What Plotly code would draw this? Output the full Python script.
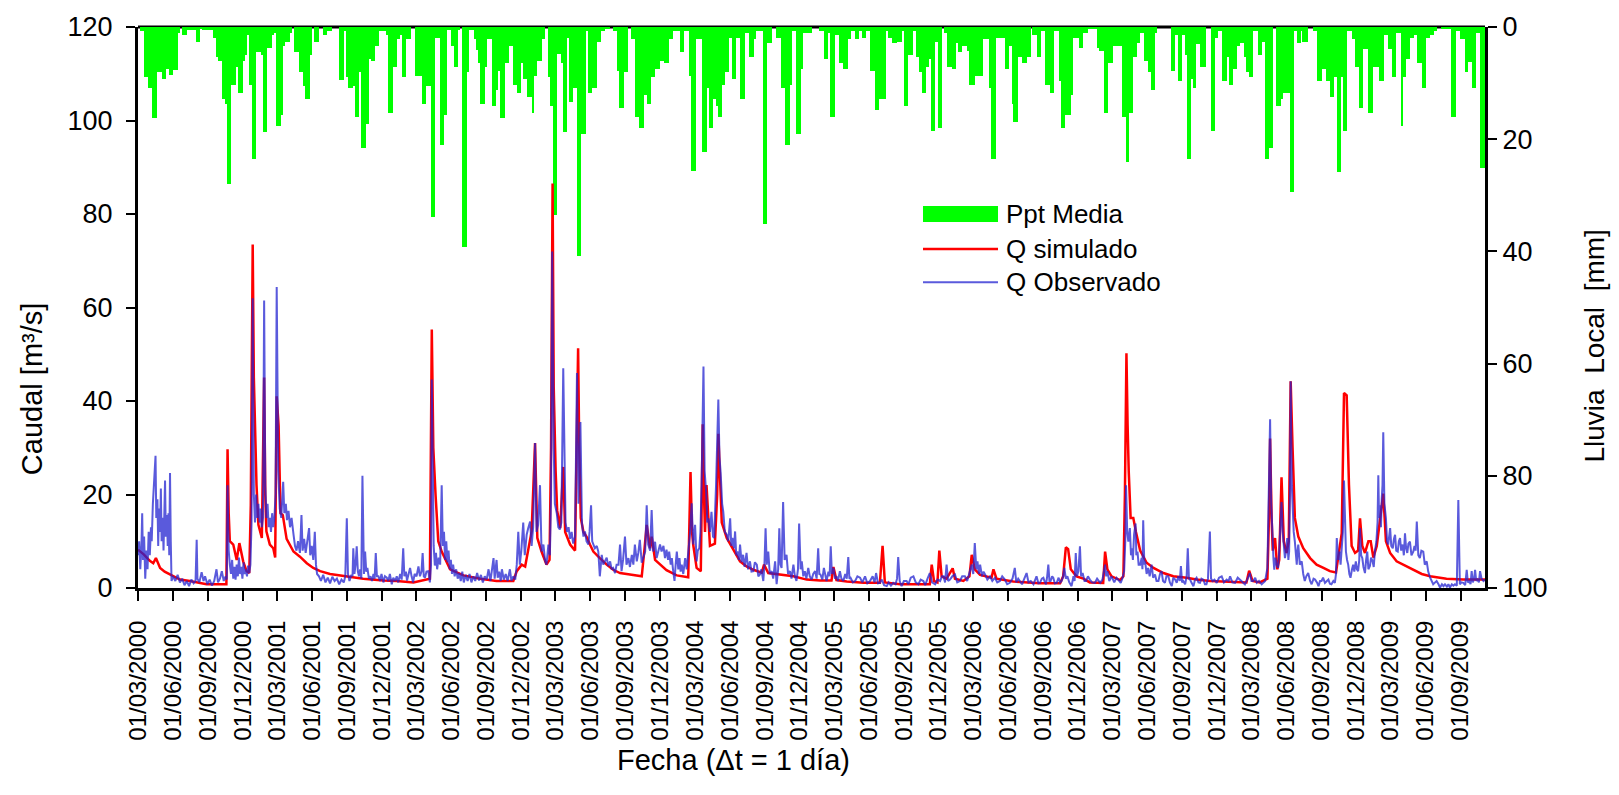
import pandas as pd
import plotly.graph_objects as go

START = pd.Timestamp("2000-03-01")
END_DAY = 3535  # last day of the record, counted from START

# Mean precipitation (mm): each value holds from its day until the next listed day
rain_day = [
    5, 16, 26, 38, 49, 62, 73, 81, 93, 104, 110, 116, 128, 141, 152,
    163, 167, 198, 205, 211, 220, 228, 234, 244, 257, 263, 275, 281, 287, 292,
    299, 310, 323, 329, 338, 352, 358, 362, 374, 380, 386, 399, 404, 409, 423,
    434, 439, 451, 457, 462, 475, 486, 497, 508, 528, 541, 546, 552, 563, 570,
    580, 585, 598, 605, 611, 622, 633, 651, 657, 668, 679, 688, 694, 703, 716,
    728, 745, 756, 769, 779, 793, 803, 810, 821, 828, 839, 845, 849, 863, 869,
    882, 889, 894, 898, 910, 917, 929, 940, 945, 950, 962, 974, 985, 994, 1004,
    1011, 1022, 1033, 1039, 1046, 1059, 1068, 1077, 1083, 1088, 1099, 1111, 1116, 1127, 1132,
    1142, 1151, 1162, 1176, 1181, 1191, 1204, 1215, 1226, 1239, 1247, 1256, 1263, 1275, 1287,
    1295, 1304, 1316, 1328, 1335, 1346, 1357, 1370, 1381, 1393, 1405, 1422, 1433, 1447, 1451,
    1464, 1480, 1493, 1499, 1510, 1519, 1523, 1533, 1540, 1552, 1558, 1569, 1580, 1593, 1604,
    1616, 1621, 1639, 1651, 1663, 1674, 1687, 1698, 1711, 1716, 1727, 1740, 1746, 1770, 1788,
    1799, 1810, 1816, 1829, 1840, 1851, 1864, 1870, 1882, 1892, 1899, 1910, 1921, 1934, 1945,
    1962, 1969, 1980, 1993, 2005, 2010, 2022, 2033, 2042, 2052, 2057, 2068, 2077, 2081, 2092,
    2099, 2110, 2115, 2122, 2135, 2146, 2151, 2162, 2175, 2181, 2197, 2218, 2233, 2239, 2252,
    2275, 2286, 2295, 2297, 2309, 2321, 2332, 2343, 2345, 2358, 2370, 2380, 2393, 2404, 2418,
    2422, 2433, 2448, 2455, 2470, 2481, 2494, 2516, 2523, 2535, 2546, 2558, 2582, 2593, 2600,
    2612, 2622, 2630, 2640, 2651, 2658, 2669, 2675, 2711, 2721, 2729, 2740, 2747, 2753, 2763,
    2769, 2776, 2787, 2804, 2816, 2827, 2835, 2846, 2857, 2864, 2874, 2885, 2892, 2905, 2909,
    2916, 2927, 2939, 2951, 2958, 2968, 2979, 2987, 2999, 3006, 3023, 3034, 3041, 3052, 3056,
    3070, 3083, 3095, 3106, 3118, 3128, 3139, 3146, 3156, 3163, 3174, 3186, 3195, 3205, 3216,
    3228, 3240, 3258, 3270, 3281, 3290, 3301, 3314, 3321, 3328, 3338, 3349, 3357, 3369, 3380,
    3391, 3401, 3410, 3419, 3445, 3458, 3469, 3482, 3491, 3500, 3511, 3522,
]
rain_mm = [
    0.7, 9.0, 10.9, 16.3, 8.1, 9.3, 7.4, 8.5, 7.7, 1.0, 0, 1.4, 0.6, 0.6, 2.6,
    0.4, 0.6, 1.9, 5.4, 6.1, 12.8, 13.7, 27.9, 10.3, 7.1, 11.8, 6.1, 5.0, 1.4, 10.3,
    23.6, 4.5, 5.0, 18.8, 3.8, 1.4, 1.0, 17.6, 15.7, 3.4, 2.6, 1.0, 0, 4.5, 8.1,
    10.6, 12.8, 5.0, 0, 2.6, 0, 1.4, 0.7, 0, 9.4, 0.7, 9.0, 10.9, 10.6, 16.0,
    8.1, 21.6, 17.3, 5.7, 6.1, 3.4, 0.7, 1.4, 15.3, 7.1, 2.2, 1.4, 9.0, 2.2, 0,
    8.7, 13.7, 10.6, 33.9, 1.9, 21.1, 15.6, 0.6, 3.4, 7.1, 0.6, 0, 39.3, 8.1, 0.6,
    2.2, 4.1, 6.5, 13.7, 7.1, 2.2, 14.1, 11.3, 7.8, 16.3, 6.5, 3.4, 10.3, 11.8, 6.5,
    9.3, 12.5, 15.3, 8.7, 6.1, 2.2, 0, 9.0, 14.0, 33.5, 4.8, 6.5, 18.8, 1.9, 13.4,
    10.9, 40.9, 19.1, 0.7, 11.8, 10.9, 2.6, 0.7, 0.4, 0, 0.7, 7.8, 14.4, 8.1, 0,
    2.2, 16.0, 18.0, 12.2, 13.7, 9.0, 7.4, 6.1, 6.5, 2.2, 0.7, 4.5, 0.7, 8.7, 25.6,
    2.2, 22.3, 10.9, 18.0, 12.8, 14.1, 16.0, 10.3, 8.1, 2.0, 9.3, 1.9, 12.8, 1.0, 5.4,
    2.2, 0.7, 35.2, 2.9, 0, 1.9, 10.9, 21.1, 10.3, 0.7, 19.1, 7.4, 1.0, 0, 0.7,
    5.7, 1.0, 16.0, 1.4, 6.5, 7.4, 2.2, 0.7, 2.2, 0.7, 1.9, 0.7, 7.8, 14.8, 12.8,
    0.7, 1.9, 2.9, 2.6, 0.7, 14.1, 5.0, 0.7, 5.4, 8.1, 11.8, 7.1, 5.7, 18.6, 2.6,
    18.0, 0, 1.0, 7.1, 7.4, 2.9, 4.5, 3.4, 4.2, 10.3, 8.7, 2.2, 10.9, 23.6, 1.9,
    7.4, 3.4, 13.8, 16.9, 5.4, 6.4, 5.4, 0, 1.4, 5.4, 0.7, 10.3, 11.8, 0.7, 9.7,
    18.0, 15.7, 12.2, 1.9, 3.8, 1.0, 0.4, 3.8, 4.2, 15.3, 6.5, 3.4, 16.0, 24.0, 15.3,
    5.4, 2.9, 1.0, 6.1, 8.1, 11.3, 1.0, 0, 7.8, 1.4, 9.7, 1.4, 5.0, 23.6, 9.3,
    10.9, 3.1, 7.1, 0, 18.6, 1.9, 0.7, 9.7, 5.4, 10.3, 7.4, 3.4, 2.9, 5.4, 8.1,
    9.0, 0.7, 5.0, 2.6, 23.6, 21.6, 0, 14.1, 12.8, 11.8, 29.4, 0.7, 2.9, 0.7, 2.6,
    0, 0.7, 9.7, 7.4, 9.7, 12.5, 9.0, 25.9, 9.0, 18.6, 0.7, 2.2, 7.1, 14.4, 3.9,
    15.3, 7.1, 9.7, 1.4, 3.9, 9.0, 1.0, 17.6, 9.0, 5.7, 1.9, 1.4, 6.5, 10.9, 1.9,
    1.4, 0.7, 0, 0.4, 16.0, 0.7, 2.2, 8.1, 6.2, 10.9, 1.0, 25.1,
]

# Simulated discharge (m3/s)
sim_day = [
    0, 15, 31, 40, 47, 58, 70, 84, 110, 136, 180, 232, 235, 238, 241,
    250, 259, 266, 276, 285, 292, 296, 301, 304, 307, 311, 316, 325, 331, 334,
    337, 346, 355, 360, 364, 369, 374, 380, 390, 399, 408, 425, 443, 460, 478,
    504, 548, 591, 644, 679, 723, 766, 771, 775, 781, 788, 797, 819, 854, 898,
    941, 985, 994, 1007, 1016, 1024, 1033, 1042, 1048, 1059, 1072, 1080, 1084, 1088, 1091,
    1096, 1100, 1108, 1116, 1121, 1134, 1147, 1155, 1158, 1162, 1169, 1177, 1186, 1195, 1212,
    1230, 1247, 1265, 1291, 1322, 1330, 1335, 1344, 1348, 1357, 1370, 1387, 1414, 1444, 1450,
    1454, 1457, 1466, 1477, 1482, 1486, 1488, 1492, 1501, 1514, 1520, 1523, 1528, 1532, 1545,
    1562, 1580, 1597, 1615, 1637, 1643, 1654, 1685, 1720, 1755, 1790, 1820, 1825, 1833, 1860,
    1904, 1947, 1954, 1960, 2000, 2078, 2083, 2089, 2098, 2103, 2109, 2122, 2138, 2144, 2166,
    2182, 2188, 2196, 2210, 2240, 2245, 2253, 2297, 2367, 2420, 2428, 2435, 2441, 2448, 2463,
    2481, 2498, 2533, 2538, 2544, 2555, 2577, 2586, 2590, 2594, 2597, 2600, 2605, 2612, 2619,
    2630, 2647, 2665, 2691, 2717, 2752, 2778, 2813, 2866, 2909, 2916, 2925, 2944, 2964, 2968,
    2971, 2975, 2978, 2984, 2990, 2995, 3001, 3007, 3014, 3020, 3025, 3030, 3036, 3045, 3058,
    3076, 3093, 3111, 3128, 3144, 3150, 3159, 3165, 3172, 3178, 3185, 3194, 3202, 3207, 3213,
    3220, 3229, 3235, 3242, 3251, 3259, 3268, 3275, 3286, 3303, 3321, 3347, 3369, 3391, 3434,
    3478, 3535,
]
sim_q = [
    8.2, 7.2, 5.8, 5.3, 6.4, 4.3, 3.5, 2.9, 1.8, 1.5, 0.8, 0.8, 29.7, 16, 10,
    9.3, 6, 9.6, 5.7, 3.6, 3.2, 17.7, 73.5, 45, 32, 22, 13.5, 10.7, 45, 20,
    12.1, 9.3, 8.5, 6.5, 41, 34.7, 16, 15.6, 10.5, 9.3, 7.8, 6.7, 5.3, 4.3, 3.6,
    3.0, 2.5, 2.0, 1.6, 1.5, 1.2, 2.0, 55.3, 30, 19.8, 10, 7.8, 4.0, 2.7, 2.0,
    1.5, 1.5, 3.6, 5.0, 4.6, 7.8, 12.1, 31, 10.7, 7.8, 5.0, 6.0, 30, 86.5, 43,
    25, 16.6, 12.8, 25.9, 12, 9.3, 8, 51.3, 30, 15, 12, 11, 9.3, 7.8, 6.4,
    5.0, 3.9, 3.2, 2.9, 2.5, 9, 13.5, 8.5, 11, 6, 5, 3.8, 2.7, 2.3, 24.8,
    12, 9.3, 4.3, 3.6, 35, 18, 12, 22, 9, 9.5, 20, 33, 20, 14, 10.7,
    8.3, 5.7, 4.6, 3.9, 3.3, 5, 3.2, 2.9, 2.5, 1.8, 1.6, 1.6, 4.5, 1.7, 1.4,
    1.1, 1.1, 9, 1.2, 0.8, 0.8, 5, 1.5, 1.2, 8, 2.5, 2.0, 4.2, 2, 1.5,
    2.5, 7.1, 4, 2.8, 2.2, 4.0, 2.0, 1.4, 1.0, 1.0, 2.5, 8.7, 8.3, 4.0, 2.5,
    2.0, 1.2, 1.1, 7.8, 4, 2.5, 1.7, 2.5, 20, 50.2, 35, 25, 15, 15, 12,
    8, 5.4, 4.3, 3.2, 2.5, 2.2, 1.8, 1.5, 1.4, 1.2, 3.7, 1.5, 1.2, 2, 15,
    32, 15, 8, 10.7, 4, 6, 23.7, 10, 7.5, 10, 44.2, 30, 15, 11, 8.5,
    6.4, 5, 4.3, 3.6, 3.3, 7, 11.7, 41.7, 41.2, 22, 9, 7.5, 8, 14.9, 9,
    7.5, 10, 10, 6.5, 9, 14, 20.2, 10, 7.5, 5.7, 5.0, 3.9, 3.0, 2.5, 2.0,
    1.8, 1.8,
]

# Observed discharge (m3/s)
obs_day = [
    0, 3, 6, 9, 11, 13, 16, 19, 22, 25, 28, 31, 34, 36, 39,
    42, 44, 46, 48, 51, 53, 55, 58, 60, 62, 65, 67, 69, 71, 73,
    76, 78, 80, 82, 84, 86, 88, 92, 98, 104, 110, 116, 122, 128, 134,
    140, 146, 151, 154, 156, 161, 167, 172, 176, 182, 188, 194, 200, 206, 210,
    215, 220, 225, 230, 233, 235, 238, 241, 244, 247, 250, 253, 256, 259, 262,
    265, 268, 271, 274, 277, 280, 283, 286, 289, 292, 295, 298, 301, 304, 307,
    310, 313, 316, 319, 322, 325, 328, 331, 334, 337, 340, 343, 346, 349, 352,
    355, 358, 361, 364, 368, 372, 376, 381, 384, 388, 391, 395, 399, 403, 408,
    412, 416, 420, 425, 429, 432, 436, 440, 444, 449, 452, 456, 460, 464, 467,
    470, 475, 480, 486, 492, 498, 504, 510, 516, 522, 528, 534, 540, 544, 548,
    551, 555, 560, 563, 565, 568, 571, 574, 577, 580, 583, 586, 589, 591, 593,
    596, 599, 602, 606, 610, 614, 618, 621, 624, 627, 631, 635, 639, 644, 648,
    653, 657, 661, 666, 670, 675, 679, 683, 688, 692, 696, 699, 703, 706, 710,
    714, 718, 722, 726, 731, 736, 740, 744, 747, 750, 753, 757, 762, 766, 769,
    771, 774, 776, 779, 782, 785, 789, 793, 797, 800, 803, 806, 809, 812, 815,
    818, 821, 824, 827, 831, 835, 839, 843, 847, 851, 855, 860, 865, 870, 875,
    880, 885, 890, 895, 900, 905, 910, 915, 920, 925, 930, 933, 936, 941, 944,
    948, 952, 955, 960, 965, 970, 976, 980, 985, 990, 994, 998, 1002, 1006, 1011,
    1015, 1020, 1024, 1029, 1033, 1037, 1042, 1046, 1050, 1055, 1059, 1064, 1068, 1072, 1077,
    1081, 1084, 1087, 1091, 1094, 1099, 1103, 1107, 1111, 1116, 1119, 1122, 1126, 1130, 1134,
    1138, 1142, 1147, 1152, 1156, 1161, 1165, 1169, 1173, 1177, 1182, 1185, 1189, 1192, 1195,
    1199, 1204, 1208, 1212, 1217, 1221, 1226, 1230, 1234, 1239, 1243, 1247, 1252, 1256, 1261,
    1265, 1269, 1273, 1278, 1282, 1287, 1291, 1296, 1300, 1304, 1309, 1313, 1317, 1322, 1326,
    1331, 1335, 1339, 1344, 1348, 1352, 1357, 1361, 1366, 1370, 1374, 1379, 1383, 1387, 1391,
    1394, 1398, 1401, 1404, 1408, 1411, 1414, 1418, 1421, 1424, 1427, 1431, 1436, 1440, 1444,
    1449, 1453, 1457, 1462, 1466, 1469, 1473, 1476, 1479, 1484, 1487, 1491, 1494, 1497, 1501,
    1505, 1509, 1512, 1517, 1523, 1526, 1529, 1533, 1536, 1540, 1545, 1549, 1554, 1557, 1560,
    1564, 1567, 1570, 1573, 1577, 1580, 1584, 1588, 1592, 1597, 1601, 1606, 1610, 1615, 1619,
    1624, 1628, 1632, 1636, 1641, 1644, 1647, 1650, 1654, 1658, 1663, 1667, 1672, 1676, 1680,
    1683, 1686, 1689, 1693, 1697, 1702, 1706, 1711, 1715, 1720, 1724, 1728, 1732, 1735, 1739,
    1742, 1746, 1750, 1754, 1759, 1763, 1768, 1772, 1777, 1781, 1785, 1788, 1791, 1796, 1800,
    1804, 1807, 1812, 1815, 1818, 1821, 1825, 1829, 1833, 1837, 1842, 1846, 1851, 1856, 1860,
    1864, 1867, 1870, 1876, 1882, 1888, 1895, 1901, 1908, 1914, 1921, 1928, 1933, 1937, 1942,
    1947, 1952, 1958, 1965, 1970, 1976, 1982, 1988, 1992, 1995, 1999, 2004, 2010, 2017, 2022,
    2028, 2035, 2041, 2048, 2054, 2061, 2066, 2072, 2078, 2084, 2092, 2098, 2105, 2110, 2114,
    2118, 2122, 2126, 2131, 2137, 2144, 2150, 2157, 2163, 2170, 2176, 2182, 2188, 2192, 2196,
    2200, 2203, 2207, 2210, 2215, 2219, 2223, 2229, 2236, 2242, 2249, 2255, 2262, 2268, 2275,
    2281, 2288, 2295, 2301, 2305, 2310, 2315, 2320, 2326, 2332, 2337, 2343, 2350, 2355, 2358,
    2363, 2367, 2372, 2376, 2380, 2383, 2386, 2389, 2392, 2395, 2399, 2402, 2406, 2411, 2416,
    2420, 2424, 2428, 2431, 2435, 2439, 2444, 2450, 2455, 2458, 2461, 2464, 2468, 2472, 2475,
    2479, 2484, 2488, 2493, 2498, 2504, 2511, 2517, 2525, 2531, 2538, 2541, 2544, 2549, 2555,
    2562, 2568, 2574, 2579, 2584, 2588, 2591, 2593, 2596, 2599, 2603, 2606, 2608, 2611, 2614,
    2618, 2620, 2623, 2626, 2630, 2634, 2636, 2638, 2641, 2643, 2647, 2651, 2655, 2660, 2664,
    2669, 2673, 2678, 2682, 2686, 2690, 2695, 2699, 2704, 2708, 2713, 2717, 2722, 2726, 2730,
    2734, 2737, 2740, 2743, 2748, 2752, 2755, 2758, 2761, 2765, 2770, 2774, 2778, 2783, 2787,
    2791, 2796, 2800, 2804, 2808, 2813, 2816, 2820, 2825, 2831, 2837, 2844, 2850, 2857, 2862,
    2866, 2872, 2879, 2886, 2892, 2898, 2905, 2911, 2918, 2922, 2927, 2932, 2936, 2942, 2949,
    2954, 2958, 2964, 2967, 2971, 2974, 2977, 2980, 2982, 2985, 2988, 2992, 2995, 2998, 3001,
    3004, 3006, 3010, 3013, 3016, 3019, 3021, 3023, 3025, 3028, 3030, 3033, 3036, 3038, 3041,
    3043, 3045, 3049, 3054, 3058, 3062, 3066, 3071, 3076, 3080, 3085, 3089, 3094, 3098, 3102,
    3106, 3110, 3115, 3120, 3124, 3128, 3132, 3137, 3141, 3144, 3146, 3150, 3153, 3156, 3159,
    3162, 3165, 3168, 3170, 3173, 3176, 3179, 3182, 3186, 3189, 3192, 3196, 3199, 3202, 3205,
    3207, 3210, 3213, 3216, 3220, 3223, 3226, 3229, 3233, 3236, 3240, 3243, 3246, 3250, 3253,
    3255, 3257, 3259, 3262, 3264, 3266, 3268, 3271, 3275, 3278, 3281, 3284, 3286, 3289, 3293,
    3296, 3299, 3302, 3306, 3309, 3312, 3315, 3319, 3322, 3325, 3328, 3331, 3334, 3338, 3342,
    3347, 3350, 3353, 3356, 3360, 3364, 3368, 3373, 3377, 3382, 3386, 3391, 3395, 3399, 3404,
    3408, 3413, 3417, 3422, 3426, 3430, 3435, 3439, 3443, 3448, 3452, 3456, 3461, 3465, 3469,
    3473, 3478, 3483, 3487, 3490, 3494, 3497, 3500, 3503, 3506, 3509, 3512, 3515, 3519, 3522,
    3526, 3531, 3535,
]
obs_q = [
    7.0, 10, 4, 9, 16, 6, 11, 2, 8, 4, 12, 7, 13, 10, 18,
    22, 25, 28.3, 15, 19, 9, 17, 12, 21.3, 10, 15, 8, 18, 23, 11,
    15.6, 9, 16, 7, 24.6, 10, 1.5, 2.5, 1.5, 2.8, 1.2, 2, 0.6, 1.5, 0.4,
    1.8, 1.0, 1.5, 10.3, 2, 1.2, 3.4, 1.5, 2.5, 0.8, 1.8, 0.5, 1.5, 4, 1.2,
    2.0, 3.6, 1.5, 2.5, 1.8, 22, 8, 5, 3, 6, 2, 4.5, 1.8, 5, 2.5,
    6.5, 3, 4.5, 2, 5.5, 3, 4, 2.5, 4.8, 3.2, 5, 14, 62, 20, 14,
    20, 15, 18, 14, 17, 13, 15, 61.5, 22, 15, 18, 13, 15, 12, 16,
    13, 15, 20, 64.4, 25, 17, 15, 22.7, 16, 18, 14.5, 16.5, 13, 15, 11.5,
    9, 8, 10, 7.5, 15.6, 8, 10.5, 7.5, 9.5, 12.8, 7, 9, 6, 12, 5,
    3, 2.5, 1.5, 2.8, 1.2, 2.2, 1.0, 2.4, 1.5, 2, 0.8, 1.8, 1.2, 2.5, 14.9,
    3, 1.5, 2.8, 2.5, 8.5, 3, 5, 8.9, 3.5, 2.5, 4, 2, 24, 6, 3,
    7.8, 3.5, 4.3, 2, 2.5, 1.5, 3, 2, 7.5, 2.5, 2.5, 1.5, 3, 1.2, 2.5,
    2.2, 1.5, 3, 0.8, 2.2, 1.5, 2.5, 1.2, 3, 1.8, 8.5, 2.5, 3.5, 1.6, 3.2,
    4.3, 2.5, 1.2, 3, 2.5, 4.6, 2.5, 3.5, 7.5, 2.5, 2.2, 3.5, 3.6, 1.2, 5,
    44.6, 15, 9, 4.8, 7.5, 4, 6.5, 5, 22, 9, 12, 6, 10, 5.5, 8,
    4, 6, 3, 5, 2.5, 4, 2, 3.2, 1.5, 3.5, 1.2, 2.8, 1.5, 3, 1.2,
    2.5, 1.5, 3.2, 1.6, 2.8, 1.2, 2.5, 1.8, 4, 1.5, 5, 6.4, 2, 6, 2.2,
    3.5, 1.5, 4, 1.8, 3, 1.5, 4, 1.5, 2.5, 1.8, 5, 12, 5, 8, 14,
    7, 11.4, 12.8, 14.2, 9, 13, 31, 12, 13.5, 22, 7.8, 9.3, 6, 5, 9.3,
    7, 20, 72, 30, 18, 16, 13, 12.5, 14, 47, 26, 14, 12, 13, 10.5,
    12, 9.5, 11, 46, 18, 35.5, 14, 11, 12.1, 10, 9.3, 12, 17.7, 10, 9.3,
    8.5, 9, 7.8, 2.5, 7.1, 5, 5.7, 6.5, 4.7, 5.7, 4, 4.3, 3.2, 5, 5.0,
    9.3, 3.6, 6, 11, 5.0, 6.4, 4.5, 7.1, 5.0, 9.3, 5.7, 7.5, 10.3, 5.4, 6.4,
    7.8, 17.7, 9.3, 8, 16.7, 7.8, 9.9, 6.4, 8, 9.3, 7.8, 9, 6.4, 8.2, 6,
    7.8, 5, 6.4, 4, 1.5, 5, 7.8, 4, 6.4, 3.5, 5.0, 3, 6.4, 4, 7.5,
    12, 18.1, 9.3, 13.5, 5.7, 8, 8.5, 12, 22, 47.4, 25, 20.6, 14, 14.9, 12,
    16.3, 11, 10.7, 22, 40.3, 28, 24.8, 18, 16.3, 12, 11.4, 10, 14.9, 9, 10.7,
    8.5, 12.1, 7, 7.8, 6, 9.3, 5.5, 7.1, 4.5, 7.5, 4, 5.7, 3.5, 3.6, 5.5,
    5.0, 2.5, 2.9, 4, 1.5, 5, 12.8, 5, 7.8, 3, 3.6, 2, 5.7, 0.8, 4,
    12.8, 5, 4.3, 18.4, 6, 7.1, 3, 3.6, 2, 5.0, 2.5, 1.5, 4, 13.8, 4,
    5.7, 2.5, 3.6, 2, 4.3, 2.5, 1.8, 3, 3.6, 2, 8.5, 3, 2.9, 1.8, 4.3,
    2.5, 1.5, 3.5, 2.5, 8.9, 3, 4.3, 2, 2.5, 1.5, 3.6, 2, 1.5, 3, 2,
    6.6, 2, 2.2, 1.2, 1.5, 2.5, 2.2, 1.2, 2.5, 1.0, 1.5, 2.5, 1.2, 3.2, 1.0,
    1.1, 1.8, 0.6, 0.4, 1.2, 0.5, 1.1, 0.8, 2, 6.6, 1.5, 0.4, 1.5, 1.5, 0.8,
    2.2, 2.5, 1.2, 0.8, 1.8, 1.5, 0.6, 2.0, 3.2, 1.2, 0.8, 1.8, 1.5, 2.5, 2.5,
    1.2, 5.0, 1.5, 1.8, 2.5, 2.9, 1.2, 1.5, 2.5, 2.5, 1.5, 3.2, 5, 3, 9.6,
    4, 5.7, 3, 5.0, 2.5, 3.5, 2.9, 1.8, 2.5, 1.5, 2.2, 1.2, 1.5, 2.5, 1.8,
    0.8, 1.1, 2, 4.3, 1.2, 2, 1.5, 0.8, 2, 3.2, 1.2, 1.5, 0.8, 1.8, 2.5,
    1.0, 1.1, 2.0, 2.2, 1.2, 0.8, 2.5, 5.0, 1.5, 1.5, 2.5, 2.2, 1.0, 1.1, 2.2,
    1.2, 1.5, 2.5, 4.3, 2, 2.5, 1.2, 0.4, 2.5, 1.5, 7.5, 2.5, 3.6, 8.9, 2.5,
    3.2, 1.5, 1.5, 2.5, 1.8, 1.2, 1.1, 2, 1.1, 1.8, 5.0, 2.5, 3.6, 1.5, 2.5,
    1.2, 2.2, 1.5, 1.1, 2.2, 3.6, 10, 22, 12, 9.9, 12.8, 7, 8.5, 6, 11.4,
    13.8, 7, 7.8, 5, 5.0, 6.4, 4, 14.5, 5, 5.7, 3, 4.3, 2.5, 5.0, 2.2,
    2.9, 1.5, 1.5, 3, 3.6, 1.5, 1.1, 2.5, 2.5, 1.2, 0.4, 2.2, 1.8, 1.1, 2.5,
    1.5, 4.7, 1.2, 1.5, 0.8, 2.5, 8.5, 2, 1.8, 1.1, 0.4, 1.8, 2.2, 1.2, 1.1,
    2, 1.8, 0.8, 0.8, 2, 12.1, 2, 1.5, 1.8, 1.1, 2.2, 2.5, 1.2, 1.8, 1.5,
    2.5, 1.2, 1.1, 2.2, 1.8, 1.2, 0.8, 1.8, 3.2, 1.5, 1.5, 2.2, 1.1, 1.5, 0.8,
    1.2, 1.5, 4.3, 15, 36.1, 18, 9.3, 6, 3.9, 6.5, 5.0, 4.3, 8, 15, 18.4,
    12, 9.9, 6.4, 8, 10.7, 6, 7.8, 20, 44.2, 22, 15.6, 12, 9.9, 7, 5.0,
    8, 9.3, 5, 5.7, 3, 1.5, 2.5, 3.2, 1.5, 0.8, 2, 1.8, 1.2, 0.4, 1.5,
    1.5, 2.2, 1.1, 1.5, 1.8, 0.9, 0.8, 1.5, 1.1, 3, 10.7, 6, 7.8, 5, 9.9,
    12, 23, 12, 7.8, 6, 5.0, 3, 2.2, 4, 5.0, 3.5, 5.7, 4, 3.6, 6,
    12.8, 7, 6.4, 4.5, 3.2, 6, 7.8, 4, 4.7, 6.5, 5.7, 4.5, 7.8, 10, 14,
    24.1, 15, 17.7, 13, 19.1, 22, 33.3, 18, 14.9, 10, 9.3, 11, 12.8, 9, 8.5,
    10.5, 11.4, 8, 7.8, 10, 10.7, 8, 9.3, 7, 11.7, 8.5, 7.5, 9.5, 9.9, 7,
    7.8, 9, 8, 14.2, 7, 6.4, 8, 7.8, 5, 5.7, 3.5, 2.2, 1.5, 0.8, 1.2,
    1.5, 0.8, 0.1, 0.8, 0.4, 0.8, 0.3, 0.8, 0.1, 0.8, 0.5, 0.8, 0.5, 18.8, 0.8,
    1.2, 1.1, 0.6, 3.9, 1.2, 1.5, 0.8, 3.6, 1.2, 1.8, 3.9, 1.5, 1.8, 1.2, 3.6,
    2, 1.5, 1.8,
]

assert len(rain_day) == len(rain_mm), (len(rain_day), len(rain_mm))
assert len(sim_day) == len(sim_q), (len(sim_day), len(sim_q))
assert len(obs_day) == len(obs_q), (len(obs_day), len(obs_q))


def to_dates(days):
    return START + pd.to_timedelta(days, unit="D")


MS_PER_DAY = 86400000
rain_edges = rain_day + [END_DAY]
rain_width = [(b - a) * MS_PER_DAY for a, b in zip(rain_edges[:-1], rain_edges[1:])]

# Figure geometry (pixels)
W, H = 1619, 795
PL, PR, PT, PB = 138, 1485, 21, 588


def fx(x):
    return (x - PL) / (PR - PL)


def fy(y):
    return (PB - y) / (PB - PT)


FONT = "Liberation Sans, Arial, sans-serif"
PPT_COLOR = "#00ff00"
SIM_COLOR = "#ff0000"
OBS_COLOR = "rgba(35,35,208,0.75)"

fig = go.Figure()
# Rain hangs from the top on the reversed right-hand axis
fig.add_trace(go.Bar(
    x=to_dates(rain_day), y=rain_mm, width=rain_width, offset=0,
    marker=dict(color=PPT_COLOR, line=dict(width=0)),
    name="Ppt Media", yaxis="y",
))
fig.add_trace(go.Scatter(
    x=to_dates(sim_day), y=sim_q, mode="lines",
    line=dict(color=SIM_COLOR, width=2.5),
    name="Q simulado", yaxis="y2",
))
fig.add_trace(go.Scatter(
    x=to_dates(obs_day), y=obs_q, mode="lines",
    line=dict(color=OBS_COLOR, width=2),
    name="Q Observado", yaxis="y2",
))

axis_style = dict(
    ticks="outside", ticklen=9, tickwidth=2, tickcolor="black",
    showline=True, linewidth=3, linecolor="black",
    showgrid=False, zeroline=False, tickfont=dict(size=27),
)

fig.update_layout(
    width=W, height=H,
    margin=dict(l=PL, r=W - PR, t=PT, b=H - PB, pad=0),
    paper_bgcolor="white", plot_bgcolor="white",
    font=dict(family=FONT, size=27, color="black"),
    showlegend=False, bargap=0,
    xaxis=dict(
        type="date",
        range=[START.strftime("%Y-%m-%d"),
               (START + pd.Timedelta(days=END_DAY)).strftime("%Y-%m-%d")],
        tickmode="linear", tick0="2000-03-01", dtick="M3",
        tickformat="%d/%m/%Y", tickangle=-90,
        ticks="outside", ticklen=10, tickwidth=2, tickcolor="black",
        showline=True, linewidth=3, linecolor="black",
        showgrid=False, zeroline=False,
        tickfont=dict(size=24), ticklabelstandoff=10,
    ),
    yaxis=dict(side="right", range=[100, 0], tick0=0, dtick=20,
               ticklabelstandoff=0, **axis_style),
    yaxis2=dict(side="left", overlaying="y", range=[0, 120], tick0=0, dtick=20,
                ticklabelstandoff=8, **axis_style),
)

shapes = [
    # top border of the plot, underneath the rain bars
    dict(type="line", xref="paper", yref="paper", x0=0, x1=1, y0=1, y1=1,
         line=dict(color="black", width=3), layer="below"),
    # legend swatches
    dict(type="rect", xref="paper", yref="paper",
         x0=fx(923), x1=fx(998), y0=fy(218), y1=fy(202),
         fillcolor=PPT_COLOR, line=dict(width=0)),
    dict(type="line", xref="paper", yref="paper",
         x0=fx(923), x1=fx(998), y0=fy(245.5), y1=fy(245.5),
         line=dict(color=SIM_COLOR, width=2.5)),
    dict(type="line", xref="paper", yref="paper",
         x0=fx(923), x1=fx(998), y0=fy(279), y1=fy(279),
         line=dict(color=OBS_COLOR, width=2)),
]

annotations = [
    dict(text="Caudal [m³/s]", x=fx(32), y=fy(387), textangle=-90,
         font=dict(size=29)),
    dict(text="Lluvia  Local  [mm]", x=fx(1595), y=fy(344), textangle=-90,
         font=dict(size=28)),
    dict(text="Fecha (Δt = 1 día)", x=fx(733), y=fy(762), font=dict(size=29)),
    dict(text="Ppt Media", x=fx(1004), y=fy(210), xanchor="left", font=dict(size=26)),
    dict(text="Q simulado", x=fx(1004), y=fy(245), xanchor="left", font=dict(size=26)),
    dict(text="Q Observado", x=fx(1004), y=fy(279), xanchor="left", font=dict(size=26)),
]
for a in annotations:
    a.update(xref="paper", yref="paper", showarrow=False)
    a.setdefault("xanchor", "center")
    a.setdefault("yanchor", "middle")

fig.update_layout(shapes=shapes, annotations=annotations)

fig.write_html("out.html")
